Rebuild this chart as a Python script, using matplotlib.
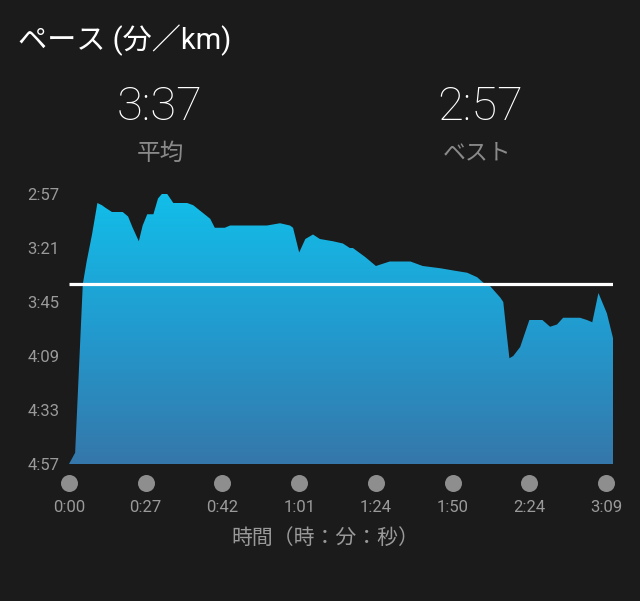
import numpy as np
import matplotlib.pyplot as plt
from matplotlib.colors import LinearSegmentedColormap
from matplotlib.transforms import blended_transform_factory

# distance position (tick units) and pace in seconds per km
pos = [0.0, 0.08, 0.12, 0.18, 0.23, 0.30, 0.37, 0.43, 0.47, 0.56, 0.70, 0.77,
       0.83, 0.91, 0.96, 1.02, 1.10, 1.16, 1.21, 1.28, 1.36, 1.54, 1.62, 1.84,
       1.90, 2.03, 2.10, 2.58, 2.75, 2.88, 2.92, 3.00, 3.08, 3.18, 3.27, 3.44,
       3.57, 3.66, 3.70, 3.86, 4.00, 4.18, 4.45, 4.61, 4.84, 5.01, 5.19, 5.32,
       5.42, 5.49, 5.62, 5.66, 5.71, 5.74, 5.79, 5.88, 5.94, 6.00, 6.17, 6.27,
       6.36, 6.44, 6.53, 6.66, 6.75, 6.82, 6.90, 7.01, 7.09]
pace = [297, 292, 262, 217, 207, 195, 181, 182, 183, 185, 185, 187,
        192, 198, 191, 186, 186, 179, 177, 177, 181, 181, 182, 188,
        192, 192, 191, 191, 190, 191, 192, 203, 197, 195, 197, 198,
        199, 201, 201, 205, 209, 207, 207, 209, 210, 211, 212, 214,
        217, 218, 223, 225, 241, 250, 249, 245, 239, 233, 233, 236,
        235, 232, 232, 232, 233, 234, 221, 230, 241]

tick_labels = ['0:00', '0:27', '0:42', '1:01', '1:24', '1:50', '2:24', '3:09']
y_ticks = [177, 201, 225, 249, 273, 297]
avg_pace = 217
best_pace = 177


def mmss(s):
    return f"{s // 60}:{s % 60:02d}"


bg = '#1b1b1b'
grey = '#9a9a9a'
fonts = ['Roboto', 'Noto Sans CJK JP', 'DejaVu Sans']
plt.rcParams['font.family'] = fonts

fig = plt.figure(figsize=(6.4, 6.01), dpi=100, facecolor=bg)
ax = fig.add_axes([69 / 640, 1 - 464 / 601, 544 / 640, 270 / 601])
ax.set_facecolor(bg)

x_end = pos[-1]
ax.set_xlim(0, x_end)
ax.set_ylim(297, 177)

# gradient area fill
poly = ax.fill_between(pos, pace, 297, color='none', lw=0)
cmap = LinearSegmentedColormap.from_list('pace', ['#3577aa', '#229bcf', '#12bee9'])
grad = np.linspace(0, 1, 256).reshape(-1, 1)
img = ax.imshow(grad, cmap=cmap, aspect='auto', origin='lower',
                extent=[0, x_end, 297, 177], zorder=1)
img.set_clip_path(poly.get_paths()[0], transform=ax.transData)
ax.set_ylim(297, 177)

# average line
ax.hlines(avg_pace, 0, x_end, color='white', lw=2.3, zorder=3)

for s in ax.spines.values():
    s.set_visible(False)

ax.set_yticks(y_ticks, [mmss(v) for v in y_ticks])
ax.set_xticks(range(len(tick_labels)), tick_labels)
ax.tick_params(axis='y', length=0, pad=7, labelsize=12, labelcolor=grey)
ax.tick_params(axis='x', length=0, pad=26, labelsize=12, labelcolor=grey)

# grey dots under the axis
trans = blended_transform_factory(ax.transData, ax.transAxes)
ax.scatter(range(len(tick_labels)), [-0.07] * len(tick_labels), s=150,
           color='#8e8e8e', transform=trans, clip_on=False, zorder=4, lw=0)

fig.text(0.508, 1 - 538 / 601, '時間（時：分：秒）', ha='center', va='center',
         fontsize=15, color=grey)

fig.text(18 / 640, 1 - 40 / 601, 'ペース (分／km)', ha='left', va='center',
         fontsize=21, color='white')

fig.text(0.25, 1 - 107 / 601, mmss(avg_pace), ha='center', va='center',
         fontsize=34, color='white', fontweight='light')
fig.text(0.25, 1 - 153 / 601, '平均', ha='center', va='center',
         fontsize=17, color='#8a8a8a')
fig.text(0.75, 1 - 107 / 601, mmss(best_pace), ha='center', va='center',
         fontsize=34, color='white', fontweight='light')
fig.text(0.746, 1 - 153 / 601, 'ベスト', ha='center', va='center',
         fontsize=16.5, color='#8a8a8a')

fig.savefig('out.png', dpi=100, facecolor=bg)
